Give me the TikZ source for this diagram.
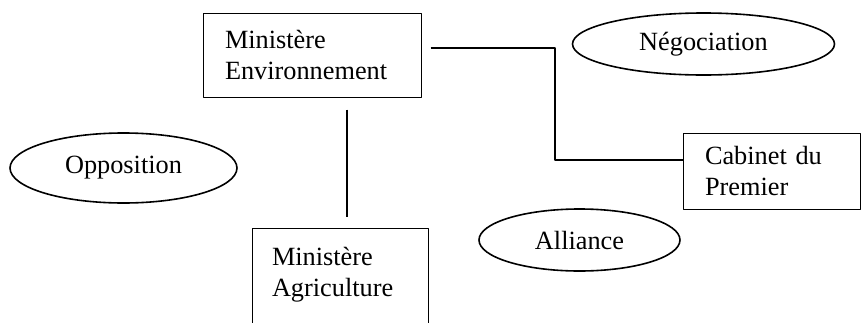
\documentclass[tikz,border=0pt]{standalone}
\usepackage{fontspec}
\setmainfont{Liberation Serif}
\usetikzlibrary{shapes.geometric}
\begin{document}
\begin{tikzpicture}[x=0.5pt, y=-0.5pt, font=\fontsize{13.15}{15.5}\selectfont, line join=round,
  box/.style={draw, line width=0.5pt, align=left, inner xsep=11pt},
  oval/.style={draw, ellipse, line width=0.8pt, inner sep=0pt}]
\useasboundingbox (0,0) rectangle (862,322);
\clip (0,0) rectangle (862,322);
\node[box, text width=87pt, minimum height=42pt] (env) at (312,55) {Ministère\\Environnement};
\node[box, text width=66.5pt, minimum height=38pt] (cab) at (771.5,171) {Cabinet du\\Premier};
\node[box, text width=68pt, inner xsep=10pt, inner ysep=9.5pt, text depth=70pt, anchor=north] (agri) at (340,228) {Ministère\\Agriculture};
\foreach \n/\p/\w/\h/\t in {neg/{(703.5,44)}/131/31/Négociation, opp/{(123.5,168)}/113.5/35/Opposition, all/{(579.5,240)}/100.5/31/Alliance}
  \node[oval, minimum width=\w pt, minimum height=\h pt] (\n) at \p {\t};
\coordinate (bend) at (555,160);
\draw[line width=0.8pt] ([xshift=4.5pt,yshift=3.5pt]env.east) -| (bend) -- (bend -| cab.west);
\draw[line width=0.8pt] ([xshift=17.5pt,yshift=-6pt]env.south) -- ([xshift=3.5pt,yshift=5.5pt]agri.north);
\end{tikzpicture}
\end{document}
